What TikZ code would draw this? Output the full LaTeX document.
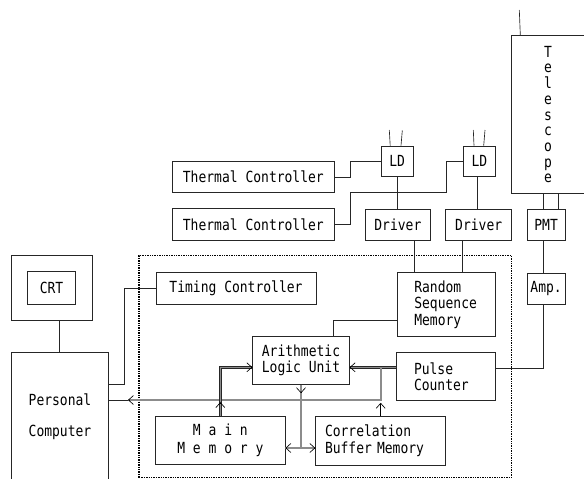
\documentclass[tikz,border=0pt]{standalone}
\usepackage{fontspec}
\newfontfamily\dgfont[FakeStretch=0.85]{DejaVu Sans Mono}
\usetikzlibrary{arrows.meta}
\begin{document}
\begin{tikzpicture}[x=1pt,y=-1pt,
  box/.style={draw=black!85, line width=0.75pt, inner sep=0pt, font=\dgfont\fontsize{15.3}{16.3}\selectfont, align=center},
  lbl/.style={inner sep=0pt, align=center},
  wire/.style={draw=black!85, line width=0.65pt},
  bus/.style={draw=black!85, line width=0.55pt, double=black!45, double distance=1.3pt},
  tip/.style={draw=black, line width=0.65pt, -{Straight Barb[length=5pt,width=9pt]}},
  dotbox/.style={draw=black, line width=1.6pt, dash pattern=on 1.4pt off 1pt},
]
\useasboundingbox (0,0) rectangle (584,479);
\begin{scope}
\clip (0,0) rectangle (584,479);
% unit frame
\node[dotbox, inner sep=0pt, minimum width=372.5pt, minimum height=222.2pt] (unit) at (325.25,366.4) {};
% telescope
\node[box, minimum width=88.3pt, minimum height=157.6pt] (tel) at (555.85,114.5) {};
\foreach \ch [count=\i] in {T,e,l,e,s,c,o,p,e}
  \node[lbl, anchor=base, font=\dgfont\fontsize{15.3}{15.3}\selectfont] (tl\i) at (548,{41.5+15.7*\i}) {\ch};
\coordinate (teltop) at (519.3,10);
\draw[wire] (teltop) -- ([xshift=9pt]tel.north west);
% boxes
\node[box, minimum width=161.3pt, minimum height=31.4pt] (tc1) at (253.35,177) {Thermal Controller};
\node[box, minimum width=161.3pt, minimum height=31.4pt] (tc2) at (253.35,224.35) {Thermal Controller};
\node[box, minimum width=32.3pt, minimum height=30.7pt] (ld1) at (397.2,161.4) {LD};
\node[box, minimum width=32.3pt, minimum height=30.7pt] (ld2) at (479.4,161.4) {LD};
\node[box, minimum width=64.3pt, minimum height=31.4pt] (drv1) at (397.85,225) {Driver};
\node[box, minimum width=66pt, minimum height=31.4pt] (drv2) at (478.7,225) {Driver};
\node[box, minimum width=37.7pt, minimum height=31.7pt] (pmt) at (546.15,224.85) {PMT};
\node[box, minimum width=37.7pt, minimum height=30.7pt] (amp) at (546.15,288.65) {Amp.};
\node[box, minimum width=80.6pt, minimum height=64.3pt] (crt) at (52,287.85) {};
\node[box, minimum width=48.4pt, minimum height=32.6pt] (crtin) at (51.5,288) {CRT};
\node[box, minimum width=96.6pt, minimum height=147.7pt] (pc) at (60,426.15) {};
\node[lbl, font=\dgfont\fontsize{15.3}{31}\selectfont] (pctxt) at (60,417) {Personal\\Computer};
\node[box, minimum width=160pt, minimum height=32pt] (tim) at (236,288.3) {Timing Controller};
\node[box, align=left, text width=63.7pt, inner xsep=17pt, minimum height=64pt] (rsm) at (446.15,304.7) {Random\\Sequence\\Memory};
\node[box, minimum width=96.6pt, minimum height=47.8pt] (alu) at (301,360.4) {Arithmetic\\Logic Unit};
\node[box, align=left, text width=63.7pt, inner xsep=17.3pt, minimum height=48pt] (pcnt) at (445.85,376.7) {Pulse\\Counter};
\node[box, minimum width=129.3pt, minimum height=48.3pt, font=\dgfont\fontsize{15.3}{17.3}\selectfont] (mm) at (220.35,440.15) {M a i n\\M e m o r y};
\node[box, align=left, text width=111.4pt, inner xsep=9.3pt, minimum height=48.3pt] (cbm) at (380.7,440.85) {Correlation\\Buffer Memory};
% LD antennas
\coordinate (a1) at (389.3,130);
\coordinate (a2) at (402.3,130.5);
\coordinate (a3) at (473.3,130);
\coordinate (a4) at (485,130);
\draw[wire] (a1) -- ([xshift=-7pt]ld1.north);
\draw[wire] (a2) -- ([xshift=3.8pt]ld1.north);
\draw[wire] (a3) -- ([xshift=-5.4pt]ld2.north);
\draw[wire] (a4) -- ([xshift=4.3pt]ld2.north);
% thin connectors
\draw[wire] (tc1.east) -- ++(16,0) |- (ld1.west);
\draw[wire] (tc2.east) -- ++(16,0) |- (446.7,192.7) |- (ld2.west);
\draw[wire] (ld1.south) -- (ld1.south |- drv1.north);
\draw[wire] ([xshift=-1.7pt]ld2.south) -- ([xshift=-1.7pt]ld2.south |- drv2.north);
\draw[wire] ([xshift=16.5pt]drv1.south) -- ([xshift=16.5pt]drv1.south |- rsm.north);
\draw[wire] ([xshift=-16.7pt]drv2.south) -- ([xshift=-16.7pt]drv2.south |- rsm.north);
\draw[wire] ([xshift=-2.8pt]pmt.north) -- ([xshift=-2.8pt]pmt.north |- tel.south);
\draw[wire] ([xshift=12.2pt]pmt.north) -- ([xshift=12.2pt]pmt.north |- tel.south);
\draw[wire] ([xshift=-2.8pt]pmt.south) -- ([xshift=-2.8pt]pmt.south |- amp.north);
\draw[wire] ([xshift=-2.8pt]amp.south) |- ([yshift=8.4pt]pcnt.east);
\draw[wire] ([yshift=-15.6pt]rsm.west) -| ([xshift=32.3pt]alu.north);
\draw[wire] ([xshift=7.3pt]crt.south) -- ([xshift=7.3pt]crt.south |- pc.north);
\draw[wire] ([yshift=42.15pt]pc.east) -- ++(15.7,0) |- (tim.west);
% buses
\coordinate (aluE) at ([yshift=9.4pt]pcnt.west -| alu.east);
\coordinate (aluW) at (alu.west |- aluE);
\coordinate (j1) at (381,367.3);
\coordinate (j2) at (381,400);
\coordinate (busend) at (128,400);
\coordinate (mmE) at ([yshift=-7.85pt]mm.east);
\coordinate (cbmW) at (cbm.west |- mmE);
\draw[bus] ([yshift=9.4pt]pcnt.west) -- (aluE);
\draw[bus] (j1) -- (j2) -- (busend);
\draw[wire] (busend) -- (busend -| pc.east);
\draw[bus] (mm.north) |- (aluW);
\draw[bus] (alu.south) -- (alu.south |- mmE);
\draw[bus] (mmE) -- (cbmW);
% arrow tips
\draw[tip] ([xshift=1pt]aluE) -- (aluE);
\draw[tip] ([xshift=1pt]busend) -- (busend);
\draw[tip] ([xshift=-1pt]aluW) -- (aluW);
\draw[tip] ([yshift=13pt]mm.north) -- ([yshift=13.5pt]mm.north);
\draw[tip] ([yshift=-8pt]alu.south) -- ([yshift=-8.5pt]alu.south);
\draw[tip] ([xshift=1pt]mmE) -- (mmE);
\draw[tip] ([xshift=-1pt]cbmW) -- (cbmW);
\draw[tip] (cbm.north) -- ++(0,-13.5);
\end{scope}
\end{tikzpicture}
\end{document}
